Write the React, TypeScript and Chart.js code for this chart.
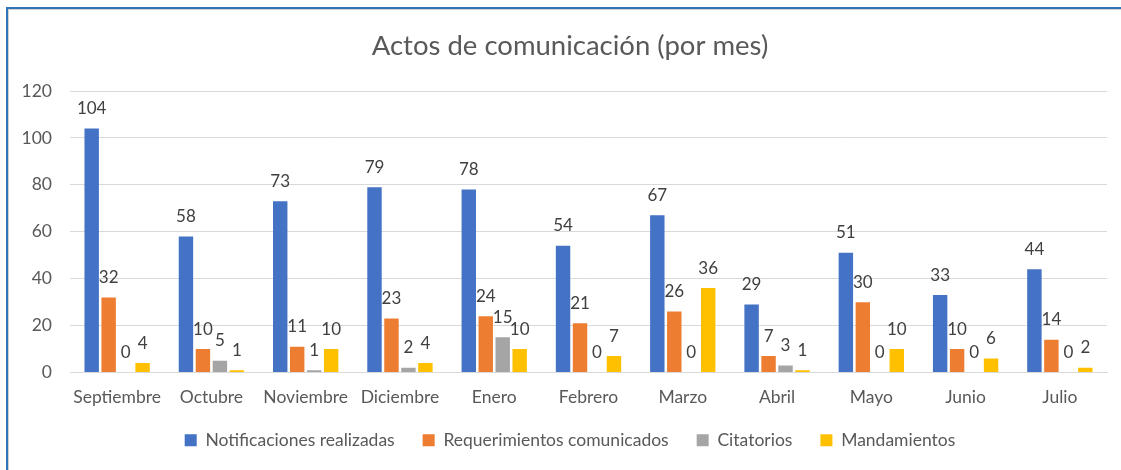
import React, { useEffect, useRef } from "react";
import { Chart, registerables } from "chart.js";

Chart.register(...registerables);

const categories = ["Septiembre", "Octubre", "Noviembre", "Diciembre", "Enero", "Febrero", "Marzo", "Abril", "Mayo", "Junio", "Julio"];
const notificaciones = [104, 58, 73, 79, 78, 54, 67, 29, 51, 33, 44];
const requerimientos = [32, 10, 11, 23, 24, 21, 26, 7, 30, 10, 14];
const citatorios = [0, 5, 1, 2, 15, 0, 0, 3, 0, 0, 0];
const mandamientos = [4, 1, 10, 4, 10, 7, 36, 1, 10, 6, 2];
const yTicks = [0, 20, 40, 60, 80, 100, 120];

const FONT = "Lato, 'Liberation Sans', sans-serif";
const TXT = "#595959";

const labelPlugin = {
  id: "barLabels",
  afterDatasetsDraw(chart: any) {
    const ctx = chart.ctx;
    ctx.save();
    ctx.font = `17px ${FONT}`;
    ctx.fillStyle = "#404040";
    ctx.textAlign = "center";
    ctx.textBaseline = "middle";
    chart.data.datasets.forEach((ds: any, i: number) => {
      const meta = chart.getDatasetMeta(i);
      meta.data.forEach((bar: any, j: number) => {
        ctx.fillText(String(ds.data[j]), bar.x, bar.y - 20);
      });
    });
    ctx.restore();
  },
};

export default function App() {
  const ref = useRef<HTMLCanvasElement>(null);
  useEffect(() => {
    if (!ref.current) return;
    const mk = (label: string, data: number[], color: string) => ({
      label,
      data,
      backgroundColor: color,
      borderWidth: 0,
      categoryPercentage: 0.72,
      barPercentage: 0.85,
    });
    const chart = new Chart(ref.current, {
      type: "bar",
      data: {
        labels: categories,
        datasets: [
          mk("Notificaciones realizadas", notificaciones, "#4472C4"),
          mk("Requerimientos comunicados", requerimientos, "#ED7D31"),
          mk("Citatorios", citatorios, "#A5A5A5"),
          mk("Mandamientos", mandamientos, "#FFC000"),
        ],
      },
      options: {
        responsive: false,
        animation: false,
        layout: { padding: { left: 33, right: 14, top: 18, bottom: 11 } },
        plugins: {
          title: {
            display: true,
            text: "Actos de comunicación (por mes)",
            color: TXT,
            font: { family: FONT, size: 27.5, weight: "normal" },
            padding: { top: 12, bottom: 28 },
          },
          legend: {
            position: "bottom",
            labels: {
              color: TXT,
              font: { family: FONT, size: 17.5 },
              boxWidth: 12,
              boxHeight: 12,
              padding: 28,
            },
          },
          tooltip: { enabled: false },
        },
        scales: {
          x: {
            grid: { display: false },
            border: { color: "#d9d9d9", width: 1 },
            ticks: { color: TXT, font: { family: FONT, size: 17.5 }, padding: 6, maxRotation: 0 },
            afterFit: (s: any) => {
              s.height = 31;
              s._computeLabelArea = () => undefined;
            },
          },
          y: {
            min: 0,
            max: 120,
            afterBuildTicks: (axis: any) => {
              axis.ticks = yTicks.map((v) => ({ value: v }));
            },
            afterFit: (s: any) => {
              s.width = 37;
              s._computeLabelArea = () => undefined;
            },
            grid: { color: "#d9d9d9", drawTicks: false },
            border: { display: false },
            ticks: { color: TXT, font: { family: FONT, size: 17.5 }, padding: 18 },
          },
        },
      },
      plugins: [labelPlugin],
    });
    return () => chart.destroy();
  }, []);
  return (
    <div style={{ position: "absolute", left: 0, top: 0, width: 1121, height: 470, background: "#fff", overflow: "hidden" }}>
      <div
        style={{
          position: "absolute",
          left: 6,
          top: 7,
          right: -10,
          bottom: -10,
          borderTop: "2px solid #2E75B6",
          borderLeft: "2px solid #2E75B6",
        }}
      >
        <div style={{ position: "absolute", left: 0, top: 0, right: 0, bottom: 0, borderTop: "1px solid #d0d0d0", borderLeft: "1px solid #d0d0d0" }} />
      </div>
      <canvas ref={ref} width={1121} height={470} style={{ position: "absolute", left: 0, top: 0 }} />
    </div>
  );
}
